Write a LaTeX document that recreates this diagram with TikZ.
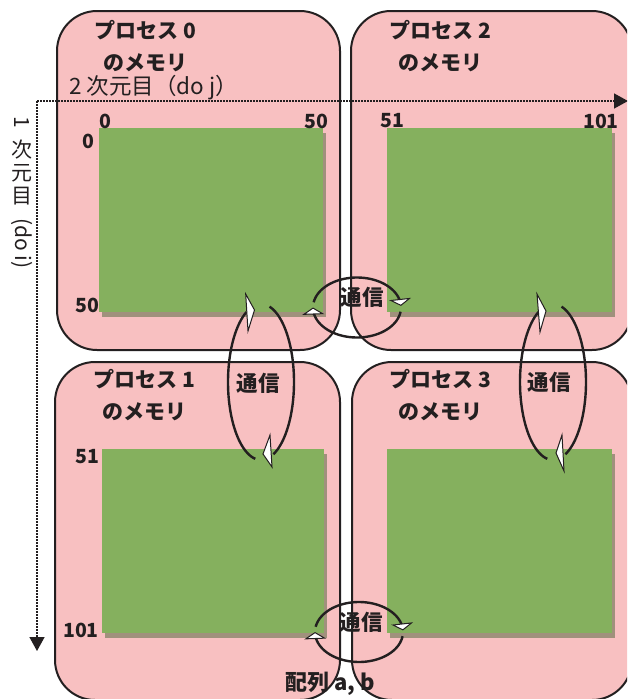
\documentclass[tikz,border=0pt]{standalone}
\usepackage{fontspec}
\setmainfont{Noto Sans CJK JP}
\usetikzlibrary{arrows.meta,shadows}
\definecolor{memfill}{RGB}{248,192,193}
\definecolor{arrfill}{RGB}{133,176,94}
\definecolor{arrshadow}{RGB}{160,145,124}
\definecolor{ink}{RGB}{35,31,32}
\tikzset{
  membox/.style={fill=memfill, draw=ink, line width=2pt, rounded corners=40pt, inner sep=0pt},
  arrbox/.style={fill=arrfill, inner sep=0pt, outer sep=0pt,
    drop shadow={shadow xshift=3pt, shadow yshift=-5pt, fill=arrshadow, opacity=1}},
  axisline/.style={ink, line width=1.5pt, dash pattern=on 1.5pt off 1.5pt,
    -{Triangle[width=15pt,length=14pt]}},
  ttl/.style={text=ink, align=center, inner sep=0pt, font=\bfseries\fontsize{21}{32}\selectfont},
  num/.style={text=ink, inner sep=0pt, font=\bfseries\fontsize{19.5}{19.5}\selectfont},
  lbl/.style={text=ink, inner sep=0pt, font=\fontsize{21}{21}\selectfont},
  comm/.style={text=ink, inner sep=0pt, font=\bfseries\fontsize{21.5}{21.5}\selectfont},
  loopline/.style={ink, line width=2.4pt},
  hhead/.style={-{Triangle[width=22pt,length=7pt,fill=white,line width=1pt]}},
  headshape/.style={fill=white, draw=ink, line width=1pt, line join=miter}
}
\begin{document}
\begin{tikzpicture}[x=1pt,y=-1pt]
\useasboundingbox (0,0) rectangle (627,699);
\fill[white] (0,0) rectangle (627,699);
\clip (0,0) rectangle (627,699);

% memory of each process
\node[membox, minimum width=283pt, minimum height=339pt] (m0) at (198.5,180.5) {};
\node[membox, minimum width=281pt, minimum height=339pt] (m2) at (491.5,180.5) {};
\node[membox, minimum width=285pt, minimum height=338pt] (m1) at (197.5,531) {};
\node[membox, minimum width=280pt, minimum height=338pt] (m3) at (492,531) {};

% array blocks held by each process
\node[arrbox, minimum width=224pt, minimum height=184pt] (a0) at (211,220) {};
\node[arrbox, minimum width=225pt, minimum height=184pt] (a2) at (499.5,220) {};
\node[arrbox, minimum width=222pt, minimum height=184pt] (a1) at (213,541) {};
\node[arrbox, minimum width=225pt, minimum height=184pt] (a3) at (499.5,541) {};

% index axes
\coordinate (org) at (37,101);
\coordinate (jend) at (628,101);
\coordinate (iend) at (37,651);
\draw[axisline] (org) -- (jend);
\draw[axisline] (org) -- (iend);
\node[lbl, anchor=west, font=\fontsize{22.5}{22.5}\selectfont] (jlab) at (69,88) {2 次元目（do j）};
\node[lbl] (ilab1) at (22,122) {\rotatebox{-90}{1}};
\node[lbl] (ilab2) at (22,150) {次};
\node[lbl] (ilab3) at (22,173) {元};
\node[lbl] (ilab4) at (22,196) {目};
\node[lbl, rotate=-90, anchor=west] (ilab5) at (22,218) {(do i)};

% process titles
\node[ttl] (t0) at (145,46) {プロセス 0\\のメモリ};
\node[ttl] (t2) at (440,46) {プロセス 2\\のメモリ};
\node[ttl] (t1) at (144,395) {プロセス 1\\のメモリ};
\node[ttl] (t3) at (440,395) {プロセス 3\\のメモリ};

% index ranges
\node[num] (n0a) at (105,121) {0};
\node[num] (n0b) at (316,121) {50};
\node[num] (n2a) at (392,121) {51};
\node[num] (n2b) at (601,121) {101};
\node[num] (n0c) at (88,141) {0};
\node[num] (n0d) at (87,305) {50};
\node[num] (n1a) at (87,457) {51};
\node[num] (n1b) at (81,630) {101};

% communication loops between horizontal neighbours
\draw[loopline, hhead] plot[smooth, domain=190:357, samples=40] ({357+44*cos(\x)},{307.5+30*sin(\x)});
\draw[loopline, hhead] plot[smooth, domain=8:180, samples=40] ({357+44*cos(\x)},{307.5+30*sin(\x)});
\draw[loopline, hhead] plot[smooth, domain=190:357, samples=40] ({359+44*cos(\x)},{632+30*sin(\x)});
\draw[loopline, hhead] plot[smooth, domain=8:180, samples=40] ({359+44*cos(\x)},{632+30*sin(\x)});

% communication loops between vertical neighbours
\draw[loopline] plot[smooth, domain=100:244, samples=40] ({261+33*cos(\x)},{382+78*sin(\x)});
\draw[loopline] plot[smooth, domain=285:428, samples=40] ({261+33*cos(\x)},{382+78*sin(\x)});
\draw[headshape] (245.7,294) -- (254.5,310) -- (248,331) -- cycle;
\draw[headshape] (270,435) -- (263,454) -- (272,467) -- cycle;
\draw[loopline] plot[smooth, domain=100:244, samples=40] ({553+33*cos(\x)},{382+78*sin(\x)});
\draw[loopline] plot[smooth, domain=285:428, samples=40] ({553+33*cos(\x)},{382+78*sin(\x)});
\draw[headshape] (537,294) -- (546,311) -- (540,332) -- cycle;
\draw[headshape] (562,435) -- (556,453) -- (564,471) -- cycle;

\node[comm] (k02) at (362,297) {通信};
\node[comm] (k01) at (258,383) {通信};
\node[comm] (k23) at (549,382) {通信};
\node[comm] (k13) at (361,622) {通信};
\node[comm, font=\bfseries\fontsize{22}{22}\selectfont] (arr) at (330,684) {配列 a, b};
\end{tikzpicture}
\end{document}
